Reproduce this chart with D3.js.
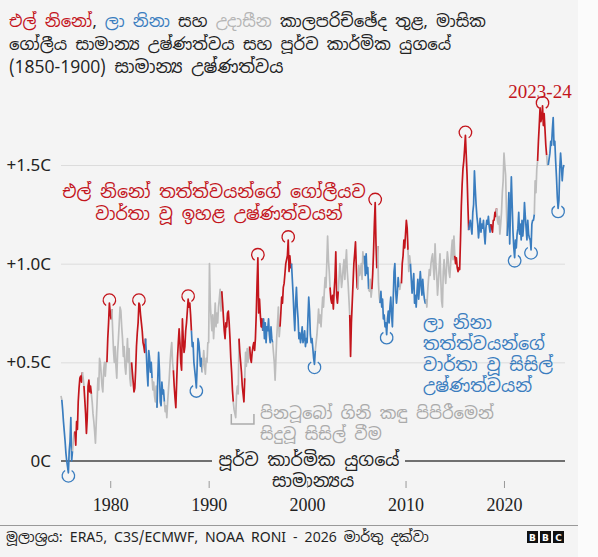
<!DOCTYPE html>
<html>
<head>
<meta charset="utf-8">
<script src="https://cdn.jsdelivr.net/npm/d3@7"></script>
<style>
  body { margin: 0; background: #fbfbfb; }
  svg text { font-family: "Noto Sans Sinhala", "Noto Sans", sans-serif; }
</style>
</head>
<body>
<svg id="chart"></svg>
<script>
// monthly global temperature vs 1850-1900, from Jan 1975
const startYear = 1975;
const anomalies = [
  0.33, 0.31, 0.26, 0.2, 0.15, 0.1, 0.04, 0.0, -0.03, -0.06, 0.05, 0.1,      // 1975
  0.22, 0.0, 0.05, 0.1, 0.14, 0.15, 0.08, 0.2, 0.16, 0.3, 0.37, 0.42,        // 1976
  0.43, 0.4, 0.45, 0.42, 0.38, 0.31, 0.24, 0.14, 0.22, 0.38, 0.41, 0.35,     // 1977
  0.38, 0.34, 0.3, 0.24, 0.2, 0.15, 0.09, 0.2, 0.3, 0.42, 0.36, 0.52,        // 1978
  0.5, 0.44, 0.38, 0.35, 0.46, 0.5, 0.43, 0.5, 0.5, 0.62, 0.7, 0.8,          // 1979
  0.75, 0.72, 0.77, 0.66, 0.56, 0.5, 0.58, 0.48, 0.42, 0.55, 0.62, 0.7,      // 1980
  0.78, 0.76, 0.68, 0.62, 0.53, 0.58, 0.48, 0.44, 0.52, 0.62, 0.5, 0.57,     // 1981
  0.42, 0.38, 0.5, 0.45, 0.4, 0.35, 0.37, 0.46, 0.58, 0.65, 0.7, 0.8,        // 1982
  0.79, 0.74, 0.7, 0.66, 0.6, 0.58, 0.55, 0.62, 0.55, 0.45, 0.38, 0.56,      // 1983
  0.52, 0.45, 0.5, 0.42, 0.36, 0.4, 0.33, 0.3, 0.38, 0.27, 0.42, 0.55,       // 1984
  0.46, 0.3, 0.28, 0.4, 0.34, 0.36, 0.3, 0.25, 0.28, 0.22, 0.3, 0.36,        // 1985
  0.42, 0.5, 0.56, 0.6, 0.5, 0.46, 0.38, 0.32, 0.27, 0.4, 0.52, 0.6,         // 1986
  0.67, 0.6, 0.5, 0.46, 0.72, 0.62, 0.55, 0.58, 0.66, 0.7, 0.76, 0.82,       // 1987
  0.78, 0.8, 0.74, 0.66, 0.58, 0.6, 0.5, 0.46, 0.42, 0.37, 0.48, 0.62,       // 1988
  0.6, 0.55, 0.48, 0.52, 0.45, 0.5, 0.56, 0.48, 0.44, 0.52, 0.5, 0.6,        // 1989
  0.6, 1.0, 0.8, 0.72, 0.66, 0.74, 0.62, 0.7, 0.8, 0.68, 0.75, 0.7,          // 1990
  0.78, 0.82, 0.87, 0.76, 0.86, 0.8, 0.73, 0.66, 0.62, 0.7, 0.68, 0.75,      // 1991
  0.76, 0.7, 0.62, 0.52, 0.45, 0.36, 0.3, 0.26, 0.24, 0.22, 0.34, 0.38,      // 1992
  0.34, 0.62, 0.55, 0.5, 0.45, 0.38, 0.34, 0.3, 0.42, 0.55, 0.48, 0.57,      // 1993
  0.5, 0.56, 0.58, 0.52, 0.5, 0.55, 0.58, 0.6, 0.56, 0.62, 0.74, 0.9,        // 1994
  1.03, 0.75, 0.82, 0.74, 0.68, 0.72, 0.66, 0.72, 0.62, 0.7, 0.6, 0.68,      // 1995
  0.66, 0.72, 0.64, 0.6, 0.68, 0.62, 0.6, 0.55, 0.5, 0.41, 0.52, 0.63,       // 1996
  0.7, 0.78, 0.63, 0.68, 0.75, 0.83, 0.8, 0.88, 0.9, 0.95, 1.0, 1.02,        // 1997
  1.04, 1.12, 0.96, 1.04, 0.98, 1.0, 0.92, 0.84, 0.74, 0.66, 0.8, 0.88,      // 1998
  0.78, 0.72, 0.62, 0.65, 0.6, 0.63, 0.68, 0.6, 0.62, 0.66, 0.58, 0.62,      // 1999
  0.6, 0.72, 0.83, 0.76, 0.64, 0.6, 0.62, 0.57, 0.52, 0.49, 0.56, 0.6,       // 2000
  0.64, 0.7, 0.77, 0.7, 0.74, 0.68, 0.76, 0.83, 0.78, 0.86, 0.93, 0.88,      // 2001
  1.0, 1.14, 1.02, 0.96, 0.88, 0.82, 0.8, 0.84, 0.77, 0.86, 0.93, 1.06,      // 2002
  0.84, 0.8, 0.86, 0.93, 1.0, 0.95, 0.88, 0.92, 0.98, 1.02, 0.92, 1.0,       // 2003
  1.07, 0.96, 0.9, 0.82, 0.74, 0.53, 0.7, 0.8, 0.9, 1.0, 1.05, 1.11,         // 2004
  0.98, 0.88, 0.87, 0.99, 0.94, 0.96, 1.0, 0.92, 1.06, 1.0, 1.04, 0.94,      // 2005
  1.05, 0.95, 0.98, 0.87, 0.86, 0.92, 0.83, 0.87, 0.95, 1.06, 1.2, 1.31,     // 2006
  1.1, 0.98, 1.09, 0.9, 0.83, 0.8, 0.86, 0.78, 0.82, 0.72, 0.74, 0.68,       // 2007
  0.7, 0.64, 0.72, 0.76, 0.7, 0.78, 0.83, 0.74, 0.68, 0.82, 0.96, 1.0,       // 2008
  0.86, 0.8, 0.85, 0.93, 0.88, 0.87, 0.9, 0.9, 1.0, 1.04, 1.12, 1.08,        // 2009
  1.15, 1.22, 1.18, 1.07, 0.96, 1.04, 1.0, 0.92, 0.85, 0.9, 0.95, 0.8,       // 2010
  0.84, 0.78, 0.86, 0.92, 0.82, 0.88, 0.96, 0.9, 0.84, 0.92, 0.86, 0.82,     // 2011
  0.8, 0.82, 0.78, 0.86, 0.92, 0.97, 0.94, 1.0, 1.03, 1.05, 0.98, 0.92,      // 2012
  1.1, 1.0, 0.94, 0.84, 0.9, 0.98, 1.05, 0.92, 0.81, 0.78, 0.96, 1.02,       // 2013
  0.95, 0.9, 0.98, 1.06, 1.02, 0.96, 0.93, 1.0, 1.07, 1.12, 1.02, 1.14,      // 2014
  1.04, 1.0, 1.03, 0.98, 0.96, 0.98, 0.97, 1.12, 1.29, 1.4, 1.48, 1.52,      // 2015
  1.58, 1.65, 1.55, 1.45, 1.3, 1.17, 1.2, 1.22, 1.18, 1.15, 1.26, 1.3,       // 2016
  1.47, 1.38, 1.3, 1.24, 1.2, 1.13, 1.18, 1.23, 1.16, 1.2, 1.18, 1.22,       // 2017
  1.15, 1.1, 1.18, 1.22, 1.2, 1.24, 1.19, 1.16, 1.2, 1.18, 1.16, 1.22,       // 2018
  1.22, 1.26, 1.24, 1.28, 1.22, 1.2, 1.24, 1.15, 1.2, 1.26, 1.36, 1.42,      // 2019
  1.56, 1.5, 1.45, 1.28, 1.14, 1.22, 1.36, 1.1, 1.28, 1.44, 1.3, 1.16,       // 2020
  1.08, 1.03, 1.12, 1.08, 1.15, 1.18, 1.26, 1.15, 1.2, 1.12, 1.22, 1.14,     // 2021
  1.2, 1.31, 1.24, 1.18, 1.12, 1.22, 1.15, 1.13, 1.12, 1.07, 1.2, 1.22,      // 2022
  1.22, 1.25, 1.42, 1.36, 1.48, 1.52, 1.62, 1.7, 1.79, 1.72, 1.74, 1.8,      // 2023
  1.7, 1.76, 1.68, 1.6, 1.55, 1.5, 1.5, 1.53, 1.56, 1.62, 1.6, 1.68,         // 2024
  1.74, 1.6, 1.62, 1.52, 1.44, 1.34, 1.28, 1.32, 1.48, 1.56, 1.5, 1.42,      // 2025
  1.48, 1.5                                                                  // 2026
];

// E = El Nino, L = La Nina, N = neutral (one letter per month)
const phases = [
  "NLLLLLLLLLLL", "LLNNNEEEEEEE", "EENNEEEEEEEE", "ENNNNNNNNNNN", "NNNNNNNNEEEE", // 1975-79
  "EENNNNNNNNNN", "NNNNNNNNNNNN", "NNEEEEEEEEEE", "EEEEEEELLLLL", "LLLNNNNNNLLL", // 1980-84
  "LLLLLLNNNNNN", "NNNNNEEEEEEE", "EEEEEEEEEEEE", "EEELLLLLLLLL", "LLLLNNNNNNNN", // 1985-89
  "NNNNNNNNNNNN", "NNNNEEEEEEEE", "EEEEEENNNNNN", "NEEEEEEENNNN", "NNEEEEEEEEEE", // 1990-94
  "EEEEEELLLLLL", "LLLLLLNNNNNN", "NNNEEEEEEEEE", "EEEEELLLLLLL", "LLLLLLLLLLLL", // 1995-99
  "LLLLLLLLLLNN", "NNNNNNNNNNNN", "NNNNEEEEEEEE", "EENNNNNNNNNN", "NNNNEEEEEEEE", // 2000-04
  "EENNNNNNNNLL", "LLLNNNNEEEEE", "EENNNLLLLLLL", "LLLLLLLLLLLL", "LLLLNNNEEEEE", // 2005-09
  "EEENNNLLLLLL", "LLLLLLLLLLLL", "LNNNNNNNNNNN", "NNNNNNNNNNNN", "NNNNNNNNNNNN", // 2010-14
  "EEEEEEEEEEEE", "EEEEELLLLLLL", "LLLLLLLLLLLL", "LLLLLLLLEEEE", "EEENNNNNNNNN", // 2015-19
  "NNNNLLLLLLLL", "LLLLLLLLLLLL", "LLLLLLLLLLLL", "LNNNNEEEEEEE", "EEEENNLLLLLL", // 2020-24
  "LLLLLLLLLLLL", "LL"                                                          // 2025-26
].join("");

// months that get a ring
const warmPeaks = ["1979-12", "1982-12", "1987-12", "1995-01", "1998-02", "2006-12", "2016-02", "2023-12"];
const coolTroughs = ["1975-10", "1988-10", "2000-10", "2008-02", "2021-02", "2022-10", "2025-07"];

const yTicks = [0, 0.5, 1.0, 1.5];
const xTicks = [1980, 1990, 2000, 2010, 2020];

const colours = { E: "#c3151c", L: "#3a7dbf", N: "#bdbdbd" };

const W = 598, H = 557;
const svg = d3.select("#chart").attr("width", W).attr("height", H);
svg.append("rect").attr("width", 578).attr("height", H).attr("fill", "#f4f4f4");

const x = d3.scaleLinear().domain([1975, 2026.2]).range([61, 565]);
const y = d3.scaleLinear().domain([0, 1.5]).range([461, 165]);

const data = anomalies.map((v, i) => ({ t: startYear + i / 12, v: v, p: phases[i] }));

// title
const title = svg.append("g").attr("fill", "#222").style("font-size", "16.5px");
const t1 = title.append("text").attr("x", 9).attr("y", 27);
t1.append("tspan").attr("fill", colours.E).text("එල් නිනෝ");
t1.append("tspan").text(", ");
t1.append("tspan").attr("fill", colours.L).text("ලා නිනා");
t1.append("tspan").text(" සහ ");
t1.append("tspan").attr("fill", "#b5b5b5").text("උදාසීන");
t1.append("tspan").text(" කාලපරිච්ඡේද තුළ, මාසික");
title.append("text").attr("x", 9).attr("y", 50).text("ගෝලීය සාමාන්‍ය උෂ්ණත්වය සහ පූර්ව කාර්මික යුගයේ");
title.append("text").attr("x", 9).attr("y", 73)
  .call(t => t.append("tspan").style("font-size", "17.5px").text("(1850-1900)"))
  .call(t => t.append("tspan").style("font-size", "17.5px").text(" සාමාන්‍ය උෂ්ණත්වය"));

// y axis with gridlines
const yAxis = d3.axisLeft(y)
  .tickValues(yTicks)
  .tickSize(-(x.range()[1] - x.range()[0]))
  .tickPadding(10)
  .tickFormat(d => d === 0 ? "0C" : "+" + d3.format(".1f")(d) + "C");

svg.append("g")
  .attr("transform", `translate(${x.range()[0]},0)`)
  .call(yAxis)
  .call(g => g.select(".domain").remove())
  .call(g => g.selectAll(".tick line").attr("stroke", "#dcdcdc").filter(d => d === 0).remove())
  .call(g => g.selectAll(".tick text")
    .attr("fill", "#222")
    .style("font-size", "17px")
    .style("font-family", "'Noto Sans', sans-serif"));

// pre-industrial baseline with a gap for its label
const y0 = y(0);
svg.append("line").attr("x1", x.range()[0]).attr("x2", 212).attr("y1", y0).attr("y2", y0)
  .attr("stroke", "#444").attr("stroke-width", 1.6);
svg.append("line").attr("x1", 405).attr("x2", x.range()[1]).attr("y1", y0).attr("y2", y0)
  .attr("stroke", "#444").attr("stroke-width", 1.6);
svg.append("text").attr("x", 309).attr("y", 466).attr("text-anchor", "middle")
  .attr("fill", "#222").style("font-size", "17.5px").text("පූර්ව කාර්මික යුගයේ");
svg.append("text").attr("x", 313).attr("y", 487).attr("text-anchor", "middle")
  .attr("fill", "#222").style("font-size", "17.5px").text("සාමාන්‍යය");

// x axis
const xAxis = d3.axisBottom(x).tickValues(xTicks).tickSize(7).tickFormat(d3.format("d"));
svg.append("g")
  .attr("transform", "translate(0,481)")
  .call(xAxis)
  .call(g => g.select(".domain").remove())
  .call(g => g.selectAll(".tick line").attr("stroke", "#999"))
  .call(g => g.selectAll(".tick text")
    .attr("y", 30).attr("dy", 0)
    .attr("fill", "#222")
    .style("font-size", "18px")
    .style("font-family", "'Liberation Serif', 'DejaVu Serif', serif"));

// coloured line, one path per run of the same phase
const runs = [];
data.forEach((d, i) => {
  if (i === 0 || d.p !== data[i - 1].p) runs.push({ p: d.p, pts: [] });
  runs[runs.length - 1].pts.push(d);
});
runs.forEach((r, k) => {
  if (k < runs.length - 1) r.pts.push(runs[k + 1].pts[0]);
});

const line = d3.line().x(d => x(d.t)).y(d => y(d.v));
svg.append("g").selectAll("path")
  .data(runs)
  .join("path")
  .attr("d", r => line(r.pts))
  .attr("fill", "none")
  .attr("stroke", r => colours[r.p])
  .attr("stroke-width", 1.7)
  .attr("stroke-linejoin", "round");

// rings around record months
const byMonth = key => {
  const [yr, m] = key.split("-").map(Number);
  return data[(yr - startYear) * 12 + m - 1];
};
const ring = d3.arc().innerRadius(5.6).outerRadius(6.9);
svg.append("g").selectAll("path.warm")
  .data(warmPeaks.map(byMonth))
  .join("path")
  .attr("class", "warm")
  .attr("transform", d => `translate(${x(d.t)},${y(d.v) - 3})`)
  .attr("d", ring.startAngle(Math.PI + 0.55).endAngle(3 * Math.PI - 0.55)())
  .attr("fill", colours.E);
svg.append("g").selectAll("path.cool")
  .data(coolTroughs.map(byMonth))
  .join("path")
  .attr("class", "cool")
  .attr("transform", d => `translate(${x(d.t)},${y(d.v) + 3})`)
  .attr("d", ring.startAngle(0.55).endAngle(2 * Math.PI - 0.55)())
  .attr("fill", colours.L);

// annotations
const warmNote = svg.append("text").attr("fill", colours.E).attr("text-anchor", "middle").style("font-size", "17.5px");
warmNote.append("tspan").attr("x", 214).attr("y", 198).text("එල් නිනෝ තත්ත්වයන්ගේ ගෝලීයව");
warmNote.append("tspan").attr("x", 219).attr("y", 220).text("වාර්තා වූ ඉහළ උෂ්ණත්වයන්");

const coolNote = svg.append("text").attr("fill", colours.L).style("font-size", "17.5px");
["ලා නිනා", "තත්ත්වයන්ගේ", "වාර්තා වූ සිසිල්", "උෂ්ණත්වයන්"].forEach((s, i) => {
  coolNote.append("tspan").attr("x", 423).attr("y", 329 + i * 21).text(s);
});

const volcNote = svg.append("text").attr("fill", "#aaa").style("font-size", "16.5px");
volcNote.append("tspan").attr("x", 260).attr("y", 419).text("පිනටූබෝ ගිනි කඳු පිපිරීමෙන්");
volcNote.append("tspan").attr("x", 260).attr("y", 440).text("සිදුවූ සිසිල් වීම");
svg.append("path")
  .attr("d", `M${x(1992.3)},414V424H${x(1994.6)}V414`)
  .attr("fill", "none").attr("stroke", "#aaa").attr("stroke-width", 1.5);

svg.append("text").attr("x", 540).attr("y", 98).attr("text-anchor", "middle")
  .attr("fill", colours.E)
  .style("font-size", "19px")
  .style("font-family", "'Liberation Serif', 'DejaVu Serif', serif")
  .text("2023-24");

// footer
svg.append("line").attr("x1", 0).attr("x2", 578).attr("y1", 525.5).attr("y2", 525.5)
  .attr("stroke", "#999").attr("stroke-width", 1);
svg.append("text").attr("x", 6).attr("y", 542).attr("fill", "#222").style("font-size", "14px")
  .text("මූලාශ්‍රය:  ERA5, C3S/ECMWF, NOAA RONI - 2026 මාර්තු දක්වා");

const logo = svg.append("g").attr("transform", "translate(527,531)");
["B", "B", "C"].forEach((c, i) => {
  logo.append("rect").attr("x", i * 13).attr("width", 11).attr("height", 12).attr("fill", "#111");
  logo.append("text").attr("x", i * 13 + 5.5).attr("y", 10).attr("text-anchor", "middle")
    .attr("fill", "#fff").style("font-size", "9px").style("font-weight", "bold")
    .style("font-family", "'DejaVu Sans', sans-serif").text(c);
});
</script>
</body>
</html>
